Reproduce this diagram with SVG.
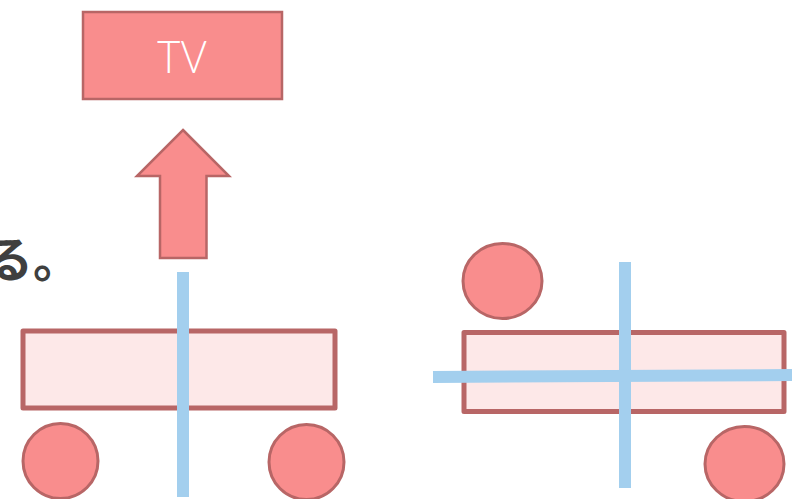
<svg xmlns="http://www.w3.org/2000/svg" width="792" height="499" viewBox="0 0 792 499">
  <style>
    .box{fill:#F98D8D;stroke:#B86666;stroke-width:2.5}
    .body{fill:#FDE8E8;stroke:#B86666;stroke-width:5;stroke-linejoin:round}
    .wheel{fill:#F98D8D;stroke:#B86666;stroke-width:3}
    .axis{stroke:#A3CFEE;stroke-width:12;fill:none}
    .lbl{font-family:Lato,"Open Sans","Liberation Sans",sans-serif;font-weight:300;fill:#FFFFFF}
    .jp{font-family:"Noto Sans CJK JP","Noto Sans CJK SC",sans-serif;font-weight:700;fill:#3F3F3F}
  </style>
  <rect width="792" height="499" fill="#FFFFFF"/>
  <g id="caption">
    <text class="jp" x="-15" y="277" font-size="48">る。</text>
  </g>
  <g id="tv">
    <rect class="box" x="83" y="12" width="199" height="87"/>
    <text class="lbl" x="182" y="73" font-size="46" text-anchor="middle" textLength="50" lengthAdjust="spacingAndGlyphs">TV</text>
  </g>
  <g id="arrow">
    <polygon class="box" points="183,130 229,176 206.5,176 206.5,258 160,258 160,176 137,176"/>
  </g>
  <g id="left-object">
    <rect class="body" x="23" y="331" width="312" height="77"/>
    <circle class="wheel" cx="60.5" cy="461" r="37.5"/>
    <circle class="wheel" cx="306.5" cy="462" r="37.5"/>
  </g>
  <g id="right-object">
    <rect class="body" x="464" y="332.5" width="320" height="79"/>
    <ellipse class="wheel" cx="502.5" cy="281" rx="39.5" ry="37.5"/>
    <ellipse class="wheel" cx="744.5" cy="464" rx="39.5" ry="37.5"/>
  </g>
  <g id="connectors">
    <line class="axis" x1="183" y1="272" x2="183" y2="497"/>
    <line class="axis" x1="625" y1="262" x2="625" y2="488"/>
    <line class="axis" x1="433" y1="377" x2="792" y2="375"/>
  </g>
</svg>
